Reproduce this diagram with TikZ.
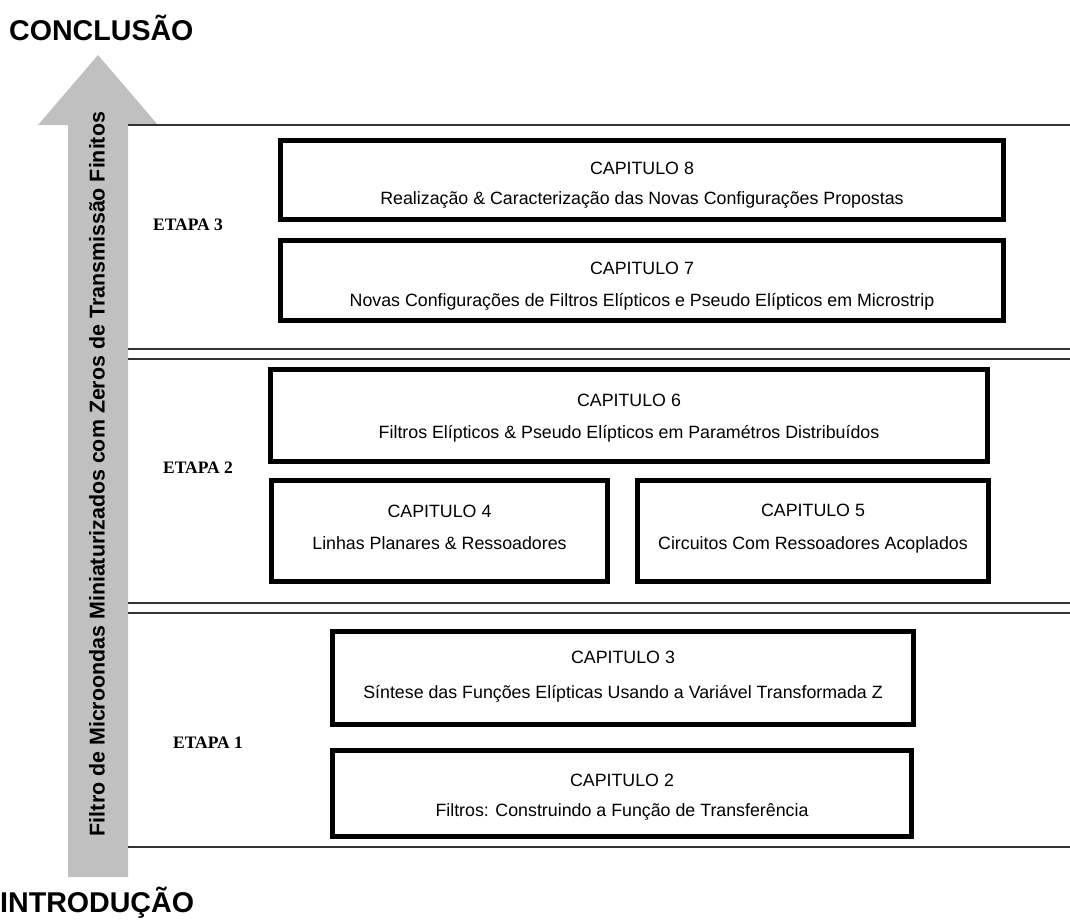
\documentclass[tikz,border=0pt]{standalone}
\usepackage{fontspec}
\setmainfont{Liberation Sans}
\newfontfamily\etapafont{Liberation Serif}
\definecolor{arrowgray}{HTML}{C0C0C0}
\definecolor{sepline}{HTML}{333333}
\begin{document}
\begin{tikzpicture}[x=1pt,y=-1pt,
  capbox/.style={draw=black,line width=5pt,inner sep=0pt},
  captext/.style={anchor=base,inner sep=0pt,font=\fontsize{17.8}{20}\selectfont},
  etapa/.style={font=\etapafont\bfseries\fontsize{17.5}{20}\selectfont,inner sep=0pt},
  sep/.style={draw=sepline,line width=1.3pt},
  endlabel/.style={font=\bfseries\fontsize{28.6}{30}\selectfont,inner sep=0pt,anchor=west}]
\useasboundingbox (0,0) rectangle (1070,919);
% big arrow
\fill[arrowgray] (68,877) -- (68,125) -- (38,125) -- (98,55) -- (158,125) -- (128,125) -- (128,877) -- cycle;
\node[rotate=90,inner sep=0pt,font=\bfseries\fontsize{21.4}{24}\selectfont] (arrowtext) at (97,474)
  {Filtro de Microondas Miniaturizados com Zeros de Transmissão Finitos};
\node[endlabel] (concl) at (9,28) {CONCLUSÃO};
\node[endlabel] (intro) at (0,903) {INTRODUÇÃO};
% separators
\foreach \yy in {125,349,359,603,613,847} \draw[sep] (128,\yy) -- (1070,\yy);
% stage labels
\node[etapa] (e3) at (188,225) {ETAPA 3};
\node[etapa] (e2) at (198,468) {ETAPA 2};
\node[etapa] (e1) at (208,743) {ETAPA 1};
% chapter boxes
\node[capbox,minimum width=723pt,minimum height=79pt] (c8) at (642,180) {};
\node[captext] (c8t) at (642,174.5) {CAPITULO 8};
\node[captext] (c8d) at (642,204.5) {Realização \& Caracterização das Novas Configurações Propostas};
\node[capbox,minimum width=723pt,minimum height=80pt] (c7) at (642,280.5) {};
\node[captext] (c7t) at (642,274.5) {CAPITULO 7};
\node[captext] (c7d) at (642,306.5) {Novas Configurações de Filtros Elípticos e Pseudo Elípticos em Microstrip};
\node[capbox,minimum width=717pt,minimum height=92pt] (c6) at (629,415.5) {};
\node[captext] (c6t) at (629,406.5) {CAPITULO 6};
\node[captext] (c6d) at (629,438.5) {Filtros Elípticos \& Pseudo Elípticos em Paramétros Distribuídos};
\node[capbox,minimum width=336pt,minimum height=101pt] (c4) at (439.5,531) {};
\node[captext] (c4t) at (439.5,517.5) {CAPITULO 4};
\node[captext] (c4d) at (439.5,549.5) {Linhas Planares \& Ressoadores};
\node[capbox,minimum width=351pt,minimum height=101pt] (c5) at (813,531) {};
\node[captext] (c5t) at (813,516.5) {CAPITULO 5};
\node[captext] (c5d) at (813,549.5) {Circuitos Com Ressoadores Acoplados};
\node[capbox,minimum width=581pt,minimum height=93pt] (c3) at (623,678) {};
\node[captext] (c3t) at (623,663.5) {CAPITULO 3};
\node[captext] (c3d) at (623,698.5) {Síntese das Funções Elípticas Usando a Variável Transformada Z};
\node[capbox,minimum width=579pt,minimum height=86pt] (c2) at (622,793.5) {};
\node[captext] (c2t) at (622,786.5) {CAPITULO 2};
\node[captext] (c2d) at (622,816.5) {Filtros: Construindo a Função de Transferência};
\end{tikzpicture}
\end{document}
